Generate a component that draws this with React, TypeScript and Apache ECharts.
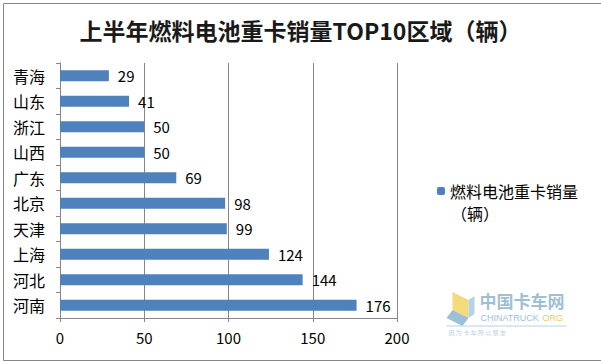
import React, { useEffect, useRef } from "react";
import * as echarts from "echarts";

const categories = ["青海", "山东", "浙江", "山西", "广东", "北京", "天津", "上海", "河北", "河南"];
const sales = [29, 41, 50, 50, 69, 98, 99, 124, 144, 176];
const xTicks = { min: 0, max: 200, interval: 50 };
const seriesName = "燃料电池重卡销量";
const titleText = "上半年燃料电池重卡销量TOP10区域（辆）";

const CJK = '"Noto Sans CJK SC", "Microsoft YaHei", sans-serif';

export default function App() {
  const ref = useRef<HTMLDivElement>(null);
  useEffect(() => {
    if (!ref.current) return;
    const chart = echarts.init(ref.current, undefined, { renderer: "svg" });
    chart.setOption({
      animation: false,
      backgroundColor: "#ffffff",
      title: {
        text: titleText,
        left: "center",
        top: 13,
        textStyle: { fontFamily: CJK, fontSize: 23, fontWeight: "bold", color: "#1a1a1a" },
      },
      legend: {
        data: [seriesName],
        orient: "vertical",
        left: 437,
        top: 182,
        padding: 0,
        itemWidth: 8,
        itemHeight: 8,
        itemGap: 4,
        textStyle: { fontFamily: CJK, fontSize: 16, lineHeight: 18, color: "#000" },
      },
      grid: { left: 60, right: 204, top: 63, bottom: 43, containLabel: false },
      xAxis: {
        type: "value",
        min: xTicks.min,
        max: xTicks.max,
        interval: xTicks.interval,
        axisLine: { show: true, lineStyle: { color: "#868686" } },
        axisTick: { show: true, length: 4, lineStyle: { color: "#868686" } },
        axisLabel: { color: "#000", fontSize: 15, margin: 12, fontFamily: CJK },
        splitLine: { show: true, lineStyle: { color: "#868686", width: 1 } },
      },
      yAxis: {
        type: "category",
        data: categories,
        inverse: true,
        axisLine: { show: true, lineStyle: { color: "#868686" } },
        axisTick: { show: true, length: 4, lineStyle: { color: "#868686" } },
        axisLabel: { color: "#000", fontSize: 16, margin: 15, fontFamily: CJK },
      },
      series: [
        {
          name: seriesName,
          type: "bar",
          data: sales,
          barCategoryGap: "56%",
          itemStyle: { color: "#4F81BD" },
          label: {
            show: true,
            position: "right",
            distance: 9,
            color: "#000",
            fontSize: 15,
            fontFamily: CJK,
          },
        },
      ],
      graphic: [
        {
          type: "rect",
          left: 1,
          top: 1,
          shape: { width: 598, height: 357 },
          style: { fill: "none", stroke: "#868686", lineWidth: 1 },
          silent: true,
        },
        {
          type: "text",
          left: 451,
          top: 204,
          style: { text: "（辆）", font: `16px ${CJK}`, lineHeight: 18, fill: "#000" },
        },
        {
          type: "group",
          left: 444,
          top: 292,
          children: [
            { type: "polygon", shape: { points: [[6, 0], [22, 8], [22, 26], [6, 18]] }, style: { fill: "#f5d97a" } },
            { type: "polygon", shape: { points: [[6, 18], [22, 26], [16, 34], [0, 26]] }, style: { fill: "#9cc0d8" } },
            { type: "polygon", shape: { points: [[22, 8], [28, 4], [28, 22], [22, 26]] }, style: { fill: "#b7d2e3" } },
            { type: "text", x: 33, y: 0, style: { text: "中国卡车网", font: `bold 17px ${CJK}`, fill: "#9fbfd4" } },
            { type: "text", x: 34, y: 21, style: { text: "CHINATRUCK", font: "9px Liberation Sans", fill: "#9fbfd4" } },
            { type: "text", x: 96, y: 21, style: { text: "ORG", font: "9px Liberation Sans", fill: "#f2c95a" } },
            { type: "line", shape: { x1: 0, y1: 34, x2: 120, y2: 34 }, style: { stroke: "#b7d2e3", lineWidth: 1 } },
            { type: "text", x: 2, y: 37, style: { text: "因 为 卡 车 所 以 朋 友", font: `6px ${CJK}`, fill: "#b7d2e3" } },
          ],
        },
      ],
    });
    return () => chart.dispose();
  }, []);
  return <div ref={ref} style={{ position: "fixed", left: 0, top: 0, width: 601, height: 361 }} />;
}
